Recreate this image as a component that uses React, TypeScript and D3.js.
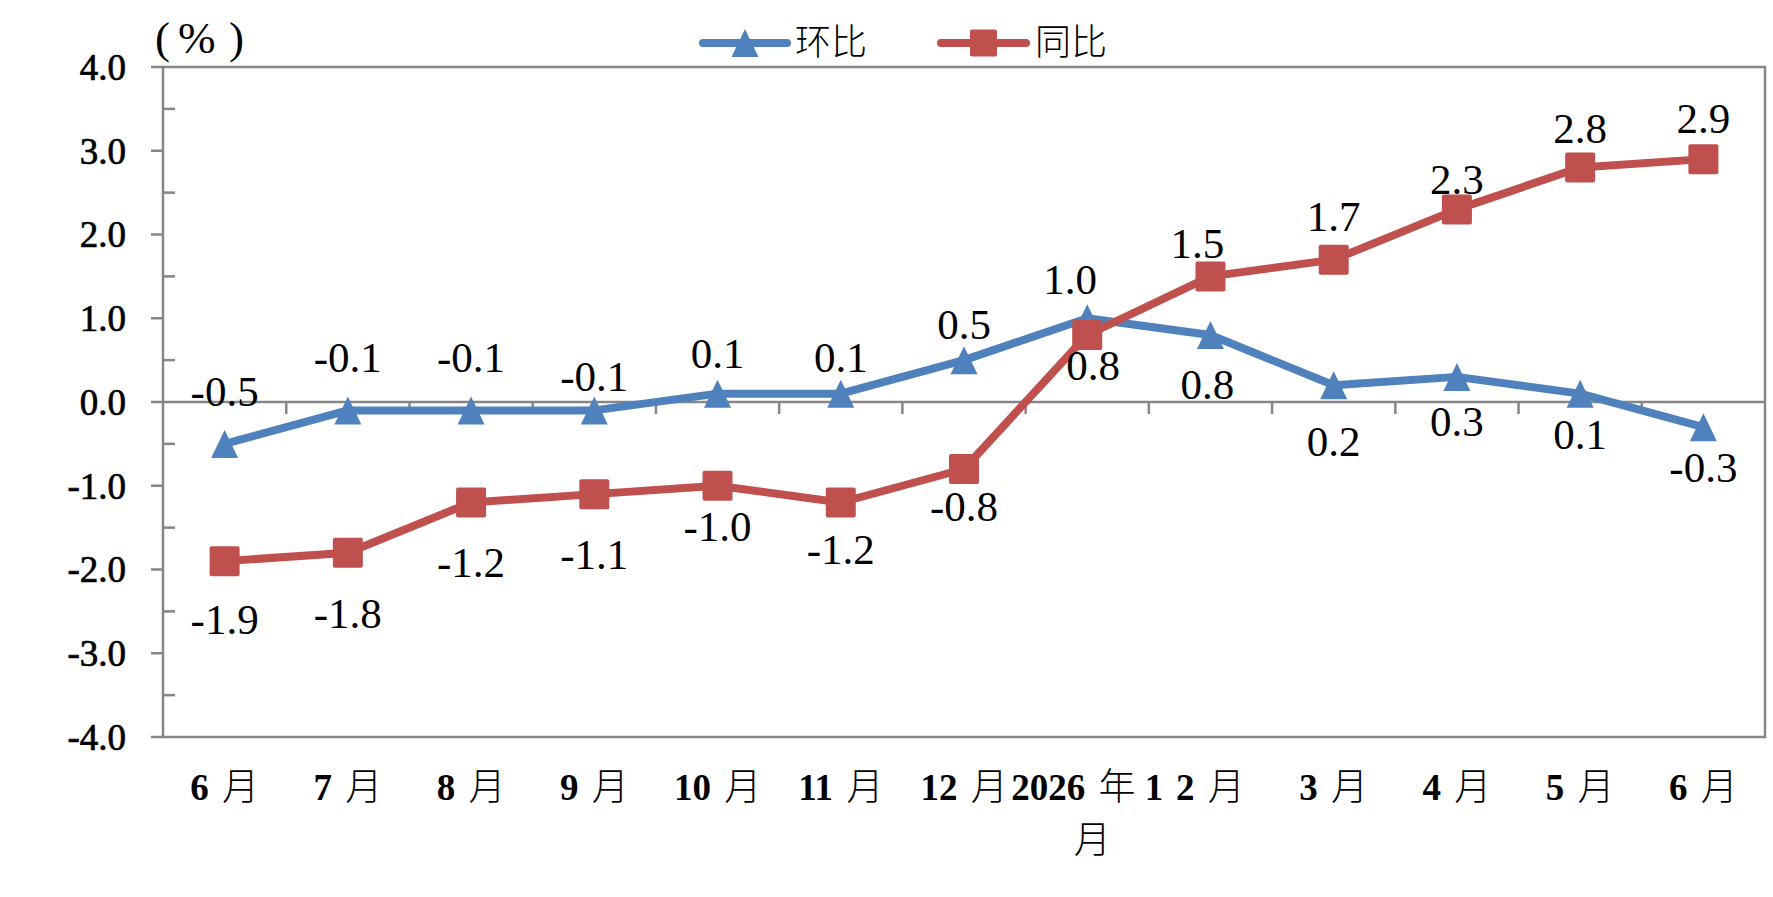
import React, { useEffect, useRef } from 'react';
import * as d3 from 'd3';

// Month categories (the 2026 one wraps onto two lines)
const months: string[] = ['6 月', '7 月', '8 月', '9 月', '10 月', '11 月', '12 月', '2026 年 1 月', '2 月', '3 月', '4 月', '5 月', '6 月'];

// 环比 (month on month), %
const momValues: number[] = [-0.5, -0.1, -0.1, -0.1, 0.1, 0.1, 0.5, 1.0, 0.8, 0.2, 0.3, 0.1, -0.3];

// 同比 (year on year), %
const yoyValues: number[] = [-1.9, -1.8, -1.2, -1.1, -1.0, -1.2, -0.8, 0.8, 1.5, 1.7, 2.3, 2.8, 2.9];

const yTicks: number[] = [-4, -3, -2, -1, 0, 1, 2, 3, 4];

// label nudges (px) so the numbers sit where the original put them
const momLabelDy: number[] = [-53, -53, -53, -34, -41, -37, -36, -39, 49, 56, 44, 40, 40];
const yoyLabelDy: number[] = [58, 60, 59, 60, 40, 46, 37, 30, -33, -44, -30, -40, -41];
const momLabelDx: number[] = [0, 0, 0, 0, 0, 0, 0, -17, -3, 0, 0, 0, 0];
const yoyLabelDx: number[] = [0, 0, 0, 0, 0, 0, 0, 6, -13, 0, 0, 0, 0];

interface Series {
  name: string;
  values: number[];
  color: string;
  marker: 'triangle' | 'square';
  dy: number[];
  dx: number[];
}

const WIDTH = 1773;
const HEIGHT = 897;
const AXIS_COLOR = '#868686';
const LATIN = '"Liberation Serif", "Times New Roman", serif';
const CJK = '"Noto Sans CJK SC", "Noto Sans CJK JP", sans-serif';

const fmt = (v: number): string => v.toFixed(1);

// split a label into latin / CJK runs so each gets its own font
const runs = (s: string): { text: string; cjk: boolean }[] => {
  const out: { text: string; cjk: boolean }[] = [];
  for (const ch of s) {
    const cjk = /[\u3000-\u9fff\uff00-\uffef]/.test(ch);
    const last = out[out.length - 1];
    if (last && last.cjk === cjk) last.text += ch;
    else out.push({ text: ch, cjk });
  }
  return out;
};

const App: React.FC = () => {
  const svgRef = useRef<SVGSVGElement>(null);

  useEffect(() => {
    if (!svgRef.current) return;

    const svg = d3.select(svgRef.current);
    svg.selectAll('*').remove();

    const plot = { left: 163, right: 1765, top: 67, bottom: 737 };

    const xScale = d3.scalePoint<number>()
      .domain(d3.range(months.length))
      .range([plot.left, plot.right])
      .padding(0.5);
    const step = xScale.step();

    const yScale = d3.scaleLinear()
      .domain([-4, 4])
      .range([plot.bottom, plot.top]);

    const g = svg.append('g');

    // plot frame
    g.append('rect')
      .attr('x', plot.left)
      .attr('y', plot.top)
      .attr('width', plot.right - plot.left)
      .attr('height', plot.bottom - plot.top)
      .attr('fill', 'none')
      .attr('stroke', AXIS_COLOR)
      .attr('stroke-width', 2.5);

    // y axis: major ticks outside, minor ticks inside
    yTicks.forEach(t => {
      g.append('line')
        .attr('x1', plot.left - 12).attr('x2', plot.left)
        .attr('y1', yScale(t)).attr('y2', yScale(t))
        .attr('stroke', AXIS_COLOR).attr('stroke-width', 2.5);
      g.append('text')
        .attr('x', plot.left - 37)
        .attr('y', yScale(t))
        .attr('dy', '0.35em')
        .attr('text-anchor', 'end')
        .attr('font-family', LATIN)
        .attr('font-size', 37)
        .attr('stroke', '#000')
        .attr('stroke-width', 0.7)
        .text(fmt(t));
    });
    d3.range(-3.5, 4, 1).forEach(t => {
      g.append('line')
        .attr('x1', plot.left).attr('x2', plot.left + 12)
        .attr('y1', yScale(t)).attr('y2', yScale(t))
        .attr('stroke', AXIS_COLOR).attr('stroke-width', 2.5);
    });

    // zero line with category ticks
    g.append('line')
      .attr('x1', plot.left).attr('x2', plot.right)
      .attr('y1', yScale(0)).attr('y2', yScale(0))
      .attr('stroke', AXIS_COLOR).attr('stroke-width', 2.5);
    d3.range(1, months.length).forEach(i => {
      const x = plot.left + i * step;
      g.append('line')
        .attr('x1', x).attr('x2', x)
        .attr('y1', yScale(0)).attr('y2', yScale(0) + 12)
        .attr('stroke', AXIS_COLOR).attr('stroke-width', 2.5);
    });

    // x labels
    months.forEach((m, i) => {
      const lines = m.startsWith('2026') ? ['2026 年 1', '月'] : [m];
      lines.forEach((ln, k) => {
        const label = g.append('text')
          .attr('x', xScale(i)! + (k > 0 ? 5 : 0))
          .attr('y', 800 + k * 53)
          .attr('text-anchor', 'middle')
          .attr('font-size', 37)
          .style('white-space', 'pre');
        runs(ln).forEach((r, j) => {
          label.append('tspan')
            .attr('font-family', r.cjk ? CJK : LATIN)
            .attr('font-weight', r.cjk ? 300 : 'bold')
            .attr('dx', r.cjk && j > 0 ? 4 : 0)
            .text(r.text);
        });
      });
    });

    // unit "（%）" laid out piece by piece like the full-width original
    [
      { t: '(', x: 155 },
      { t: '%', x: 178 },
      { t: ')', x: 229 },
    ].forEach(p => {
      svg.append('text')
        .attr('x', p.x)
        .attr('y', 53)
        .attr('font-family', LATIN)
        .attr('font-size', 45)
        .text(p.t);
    });

    const series: Series[] = [
      { name: '环比', values: momValues, color: '#4F81BD', marker: 'triangle', dy: momLabelDy, dx: momLabelDx },
      { name: '同比', values: yoyValues, color: '#C0504D', marker: 'square', dy: yoyLabelDy, dx: yoyLabelDx },
    ];

    const line = d3.line<number>()
      .x((_, i) => xScale(i)!)
      .y(d => yScale(d));

    const triangle = (cx: number, cy: number, w: number, h: number): string =>
      `M${cx},${cy - h / 2}L${cx + w / 2},${cy + h / 2}L${cx - w / 2},${cy + h / 2}Z`;

    const drawMarker = (sel: d3.Selection<SVGGElement, unknown, null, undefined>, s: Series, cx: number, cy: number, size: number) => {
      if (s.marker === 'triangle') {
        sel.append('path')
          .attr('d', triangle(cx, cy, size, size + 1))
          .attr('fill', s.color);
      } else {
        sel.append('rect')
          .attr('x', cx - size / 2)
          .attr('y', cy - size / 2)
          .attr('width', size)
          .attr('height', size)
          .attr('rx', 2)
          .attr('fill', s.color);
      }
    };

    series.forEach(s => {
      const sg = g.append('g');
      sg.append('path')
        .datum(s.values)
        .attr('fill', 'none')
        .attr('stroke', s.color)
        .attr('stroke-width', 8)
        .attr('stroke-linejoin', 'round')
        .attr('d', line);

      s.values.forEach((v, i) => {
        drawMarker(sg, s, xScale(i)!, yScale(v), s.marker === 'triangle' ? 27 : 30);
      });
    });

    // data labels on top of everything
    series.forEach(s => {
      s.values.forEach((v, i) => {
        g.append('text')
          .attr('x', xScale(i)! + s.dx[i])
          .attr('y', yScale(v) + s.dy[i])
          .attr('dy', '0.35em')
          .attr('text-anchor', 'middle')
          .attr('font-family', LATIN)
          .attr('font-size', 43)
          .text(fmt(v));
      });
    });

    // legend
    const legend = svg.append('g');
    const legendItems = [
      { s: series[0], x1: 703, x2: 787, tx: 795 },
      { s: series[1], x1: 941, x2: 1026, tx: 1035 },
    ];
    legendItems.forEach(item => {
      const lg = legend.append('g');
      lg.append('line')
        .attr('x1', item.x1).attr('x2', item.x2)
        .attr('y1', 43).attr('y2', 43)
        .attr('stroke', item.s.color)
        .attr('stroke-width', 8)
        .attr('stroke-linecap', 'round');
      drawMarker(lg, item.s, (item.x1 + item.x2) / 2, 43, 27);
      lg.append('text')
        .attr('x', item.tx)
        .attr('y', 55)
        .attr('font-family', CJK)
        .attr('font-weight', 300)
        .attr('font-size', 36)
        .text(item.s.name);
    });
  }, []);

  return (
    <svg
      ref={svgRef}
      width={WIDTH}
      height={HEIGHT}
      viewBox={`0 0 ${WIDTH} ${HEIGHT}`}
      style={{ position: 'absolute', left: 0, top: 0, background: '#fff' }}
    />
  );
};

export default App;
